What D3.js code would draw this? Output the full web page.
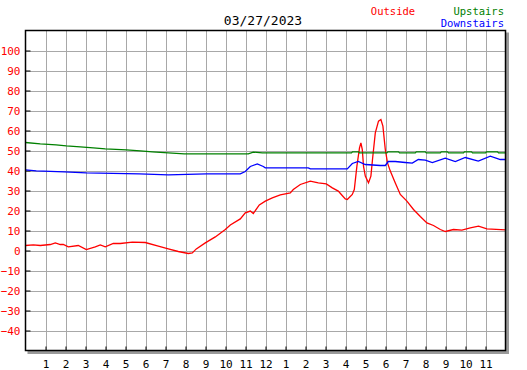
<!DOCTYPE html>
<html><head><meta charset="utf-8">
<script src="https://cdn.jsdelivr.net/npm/d3@7"></script>
<style>body{margin:0;background:#fff}svg{display:block}</style>
</head><body>
<svg id="c" width="527" height="370"></svg>
<script>
const title = "03/27/2023";
const xTickHours = d3.range(1, 24);
const xTickLabels = ["1","2","3","4","5","6","7","8","9","10","11","12","1","2","3","4","5","6","7","8","9","10","11"];
const yTicks = [-40,-30,-20,-10,0,10,20,30,40,50,60,70,80,90,100];
const seriesNames = ["Outside","Upstairs","Downstairs"];
const seriesColors = ["#ff0000","#008000","#0000ff"];

const upstairs = [[0,54],[0.74,53.3],[1.53,52.8],[2.04,52.3],[2.74,51.8],[3.39,51.3],[3.99,50.8],[5.04,50.3],[5.74,49.8],[6.34,49.3],[7.14,48.8],[7.94,48.3],[11.14,48.3],[11.39,49.2],[11.84,48.8],[16.3,48.8],[16.35,49.3],[16.65,49.3],[16.7,48.8],[18.07,48.8],[18.12,49.3],[18.65,49.3],[18.7,48.8],[19.49,48.8],[19.54,49.3],[19.99,49.3],[20.04,48.8],[20.74,48.8],[20.79,49.3],[21.1,49.3],[21.15,48.8],[21.9,48.8],[21.95,49.3],[22.3,49.3],[22.35,48.8],[23.0,48.8],[23.05,49.3],[23.6,49.3],[23.65,48.8],[24,48.8]];

const downstairs = [[0,40.3],[0.54,39.8],[1.94,39.3],[3.04,38.8],[5.69,38.3],[7.14,37.8],[9.04,38.3],[10.74,38.3],[10.99,39.5],[11.24,42],[11.59,43.3],[11.89,42],[11.99,41.3],[14.14,41.3],[14.24,40.8],[16.09,40.8],[16.34,43.5],[16.64,44.5],[16.99,43],[17.74,42.5],[17.99,42.5],[18.14,44.5],[18.49,44.5],[18.99,44],[19.34,43.7],[19.64,45.5],[19.99,45.2],[20.34,44],[20.99,46.2],[21.49,44.5],[21.99,46.5],[22.64,44.7],[23.24,47.2],[23.74,45.5],[24,45.5]];

const outside = [[0,2.5],[0.39,2.8],[0.74,2.5],[1.24,3],[1.49,3.8],[1.74,3],[1.89,3],[2.14,1.8],[2.64,2.5],[3.04,0.5],[3.49,1.8],[3.74,2.8],[3.99,1.8],[4.39,3.5],[4.74,3.5],[5.34,4.2],[5.99,4],[6.64,2.2],[7.14,0.8],[7.64,-0.5],[8.14,-1.5],[8.34,-1.2],[8.54,0.8],[8.99,3.8],[9.49,6.8],[9.99,10.5],[10.24,12.8],[10.74,15.8],[10.99,18.8],[11.24,19.7],[11.39,18.5],[11.69,22.8],[11.99,24.7],[12.34,26.3],[12.74,27.8],[13.24,28.8],[13.39,30.5],[13.74,33],[14.24,34.7],[14.64,33.8],[15.04,33.3],[15.34,31.3],[15.64,29.7],[15.79,28],[15.99,25.8],[16.09,25.5],[16.34,28],[16.44,30.5],[16.57,42.2],[16.7,51.3],[16.77,53.8],[16.84,50.5],[16.9,42.2],[16.99,37.2],[17.15,33.8],[17.27,37.2],[17.35,45.5],[17.49,58.8],[17.65,64.7],[17.77,65.5],[17.87,62.2],[17.99,50.5],[18.1,43.8],[18.24,39.7],[18.49,33.8],[18.74,28],[19.07,24.7],[19.4,20.5],[19.74,17],[20.07,13.8],[20.4,12.5],[20.74,10.5],[20.99,9.5],[21.4,10.5],[21.82,10.2],[22.24,11.3],[22.65,12.2],[23.07,10.8],[24,10.3]];

const svg = d3.select("#c");
const L = 25.5, R = 505.5, T = 30.5, B = 350.5;
const x = d3.scaleLinear().domain([0,24]).range([L,R]);
const y = d3.scaleLinear().domain([-50,110]).range([B,T]);
const font = "'DejaVu Sans Mono', monospace";

// shadow
svg.append("rect").attr("x", L+2).attr("y", T+2).attr("width", R-L+1.5).attr("height", B-T+1.5).attr("fill", "#9a9a9a");
svg.append("rect").attr("x", L).attr("y", T).attr("width", R-L).attr("height", B-T).attr("fill", "#fff");

// grid
const g = svg.append("g").attr("shape-rendering","crispEdges");
g.selectAll("line.v").data(xTickHours).join("line")
  .attr("x1", d => Math.round(x(d))+0.5).attr("x2", d => Math.round(x(d))+0.5)
  .attr("y1", T).attr("y2", B).attr("stroke", "#a8a8a8");
g.selectAll("line.h").data(yTicks).join("line")
  .attr("y1", d => Math.round(y(d))+0.5).attr("y2", d => Math.round(y(d))+0.5)
  .attr("x1", L).attr("x2", R).attr("stroke", "#a8a8a8");

// ticks
const xAxis = d3.axisBottom(x).tickValues(xTickHours).tickSize(-4).tickPadding(10)
  .tickFormat((d,i) => xTickLabels[i]);
const xa = svg.append("g").attr("transform", `translate(0,${B})`).call(xAxis);
xa.select(".domain").remove();
xa.selectAll("line").attr("stroke","#000");
xa.selectAll("text").attr("font-family", font).attr("font-size", 11).attr("fill","#000");

const yAxis = d3.axisLeft(y).tickValues(yTicks).tickSize(-5).tickPadding(10);
const ya = svg.append("g").attr("transform", `translate(${L},0)`).call(yAxis);
ya.select(".domain").remove();
ya.selectAll("line").attr("stroke","#000");
ya.selectAll("text").attr("font-family", font).attr("font-size", 11).attr("fill","#ff0000").attr("x", -5);

// lines
const line = d3.line().x(d => x(d[0])).y(d => y(d[1]));
const plot = svg.append("g");
[[outside,0],[upstairs,1],[downstairs,2]].forEach(([data,i]) => {
  plot.append("path").datum(data).attr("d", line).attr("fill","none")
    .attr("stroke", seriesColors[i]).attr("stroke-width", 1.3);
});

// frame
svg.append("rect").attr("x", L).attr("y", T).attr("width", R-L).attr("height", B-T)
  .attr("fill","none").attr("stroke","#000").attr("stroke-width",1.5);

// title & legend
svg.append("text").attr("x", 263).attr("y", 25).attr("text-anchor","middle")
  .attr("font-family", font).attr("font-size", 13).attr("fill","#000").text(title);
svg.append("text").attr("x", 393).attr("y", 15).attr("text-anchor","middle")
  .attr("font-family", font).attr("font-size", 10.5).attr("fill", seriesColors[0]).text(seriesNames[0]);
svg.append("text").attr("x", 504).attr("y", 15).attr("text-anchor","end")
  .attr("font-family", font).attr("font-size", 10.5).attr("fill", seriesColors[1]).text(seriesNames[1]);
svg.append("text").attr("x", 504).attr("y", 27).attr("text-anchor","end")
  .attr("font-family", font).attr("font-size", 10.5).attr("fill", seriesColors[2]).text(seriesNames[2]);
</script>
</body></html>
